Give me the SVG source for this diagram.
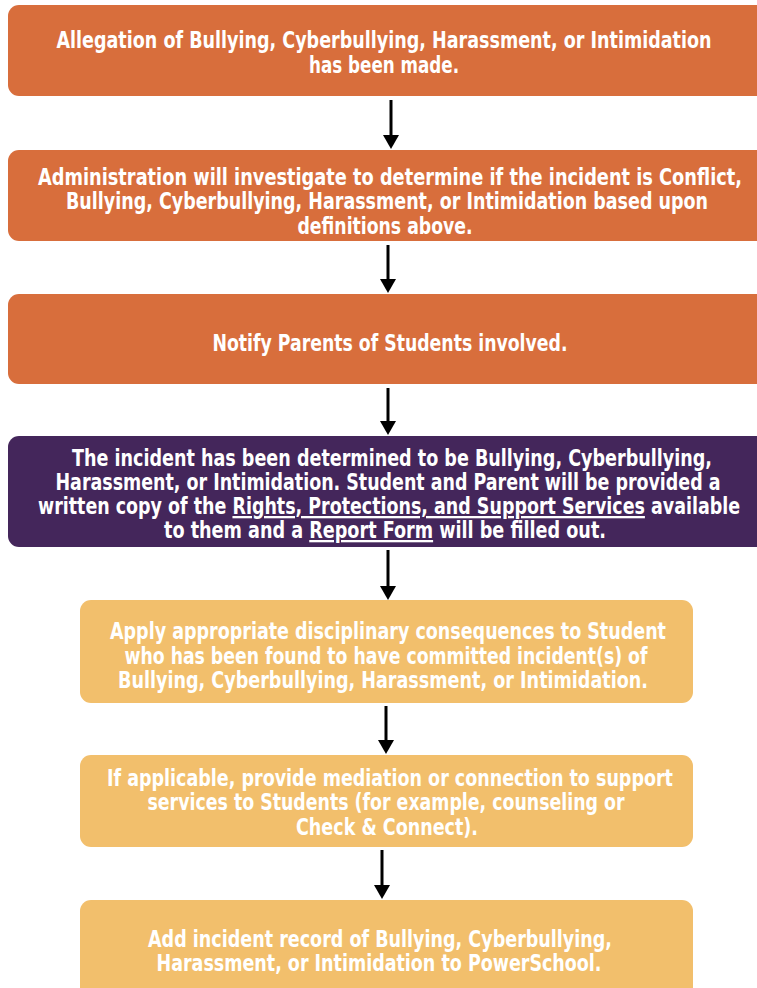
<svg xmlns="http://www.w3.org/2000/svg" width="757" height="988" viewBox="0 0 757 988">
<defs>
<style>
.orange{fill:#D86E3C}
.purple{fill:#44265B}
.light{fill:#F2BF6C}
text{font-family:"DejaVu Sans Condensed","DejaVu Sans","Liberation Sans",sans-serif;font-weight:bold;font-size:23px;fill:#fff;text-anchor:middle}
.conn line{stroke:#000;stroke-width:3}
.conn path{fill:#000}
</style>
</defs>
<rect width="757" height="988" fill="#fff"/>
<g class="conn" id="connectors">
<line x1="391" y1="100" x2="391" y2="136"/><path d="M383,135 L399,135 L391,149 Z"/>
<line x1="388" y1="245" x2="388" y2="280"/><path d="M380,279 L396,279 L388,293 Z"/>
<line x1="388" y1="388" x2="388" y2="422"/><path d="M380,421 L396,421 L388,435 Z"/>
<line x1="388" y1="550" x2="388" y2="587"/><path d="M380,586 L396,586 L388,600 Z"/>
<line x1="386" y1="706" x2="386" y2="741"/><path d="M378,740 L394,740 L386,754 Z"/>
<line x1="382" y1="850" x2="382" y2="886"/><path d="M374,885 L390,885 L382,899 Z"/>
</g>
<g id="n1">
<path class="orange" d="M19,5 H757 V96 H19 A11,11 0 0 1 8,85 V16 A11,11 0 0 1 19,5 Z"/>
<text x="384" y="48" textLength="655" lengthAdjust="spacingAndGlyphs">Allegation of Bullying, Cyberbullying, Harassment, or Intimidation</text>
<text x="384" y="73" textLength="150" lengthAdjust="spacingAndGlyphs">has been made.</text>
</g>
<g id="n2">
<path class="orange" d="M19,150 H757 V241 H19 A11,11 0 0 1 8,230 V161 A11,11 0 0 1 19,150 Z"/>
<text x="390" y="185" textLength="704" lengthAdjust="spacingAndGlyphs">Administration will investigate to determine if the incident is Conflict,</text>
<text x="387" y="209" textLength="642" lengthAdjust="spacingAndGlyphs">Bullying, Cyberbullying, Harassment, or Intimidation based upon</text>
<text x="385" y="234" textLength="175" lengthAdjust="spacingAndGlyphs">definitions above.</text>
</g>
<g id="n3">
<path class="orange" d="M19,294 H757 V384 H19 A11,11 0 0 1 8,373 V305 A11,11 0 0 1 19,294 Z"/>
<text x="390" y="351" textLength="355" lengthAdjust="spacingAndGlyphs">Notify Parents of Students involved.</text>
</g>
<g id="n4">
<path class="purple" d="M19,436 H757 V547 H19 A11,11 0 0 1 8,536 V447 A11,11 0 0 1 19,436 Z"/>
<text x="392" y="466" textLength="640" lengthAdjust="spacingAndGlyphs">The incident has been determined to be Bullying, Cyberbullying,</text>
<text x="388" y="490" textLength="665" lengthAdjust="spacingAndGlyphs">Harassment, or Intimidation. Student and Parent will be provided a</text>
<text x="389" y="514" textLength="702" lengthAdjust="spacingAndGlyphs">written copy of the <tspan text-decoration="underline">Rights, Protections, and Support Services</tspan> available</text>
<text x="385" y="538" textLength="442" lengthAdjust="spacingAndGlyphs">to them and a <tspan text-decoration="underline">Report Form</tspan> will be filled out.</text>
</g>
<g id="n5">
<rect class="light" x="80" y="600" width="613" height="103" rx="11"/>
<text x="388" y="639" textLength="556" lengthAdjust="spacingAndGlyphs">Apply appropriate disciplinary consequences to Student</text>
<text x="386" y="664" textLength="523" lengthAdjust="spacingAndGlyphs">who has been found to have committed incident(s) of</text>
<text x="383" y="688" textLength="530" lengthAdjust="spacingAndGlyphs">Bullying, Cyberbullying, Harassment, or Intimidation.</text>
</g>
<g id="n6">
<rect class="light" x="80" y="755" width="613" height="92" rx="11"/>
<text x="390" y="786" textLength="566" lengthAdjust="spacingAndGlyphs">If applicable, provide mediation or connection to support</text>
<text x="386" y="810" textLength="477" lengthAdjust="spacingAndGlyphs">services to Students (for example, counseling or</text>
<text x="387" y="835" textLength="182" lengthAdjust="spacingAndGlyphs">Check &amp; Connect).</text>
</g>
<g id="n7">
<path class="light" d="M91,900 H682 A11,11 0 0 1 693,911 V988 H80 V911 A11,11 0 0 1 91,900 Z"/>
<text x="380" y="947" textLength="464" lengthAdjust="spacingAndGlyphs">Add incident record of Bullying, Cyberbullying,</text>
<text x="379" y="971" textLength="445" lengthAdjust="spacingAndGlyphs">Harassment, or Intimidation to PowerSchool.</text>
</g>
</svg>
